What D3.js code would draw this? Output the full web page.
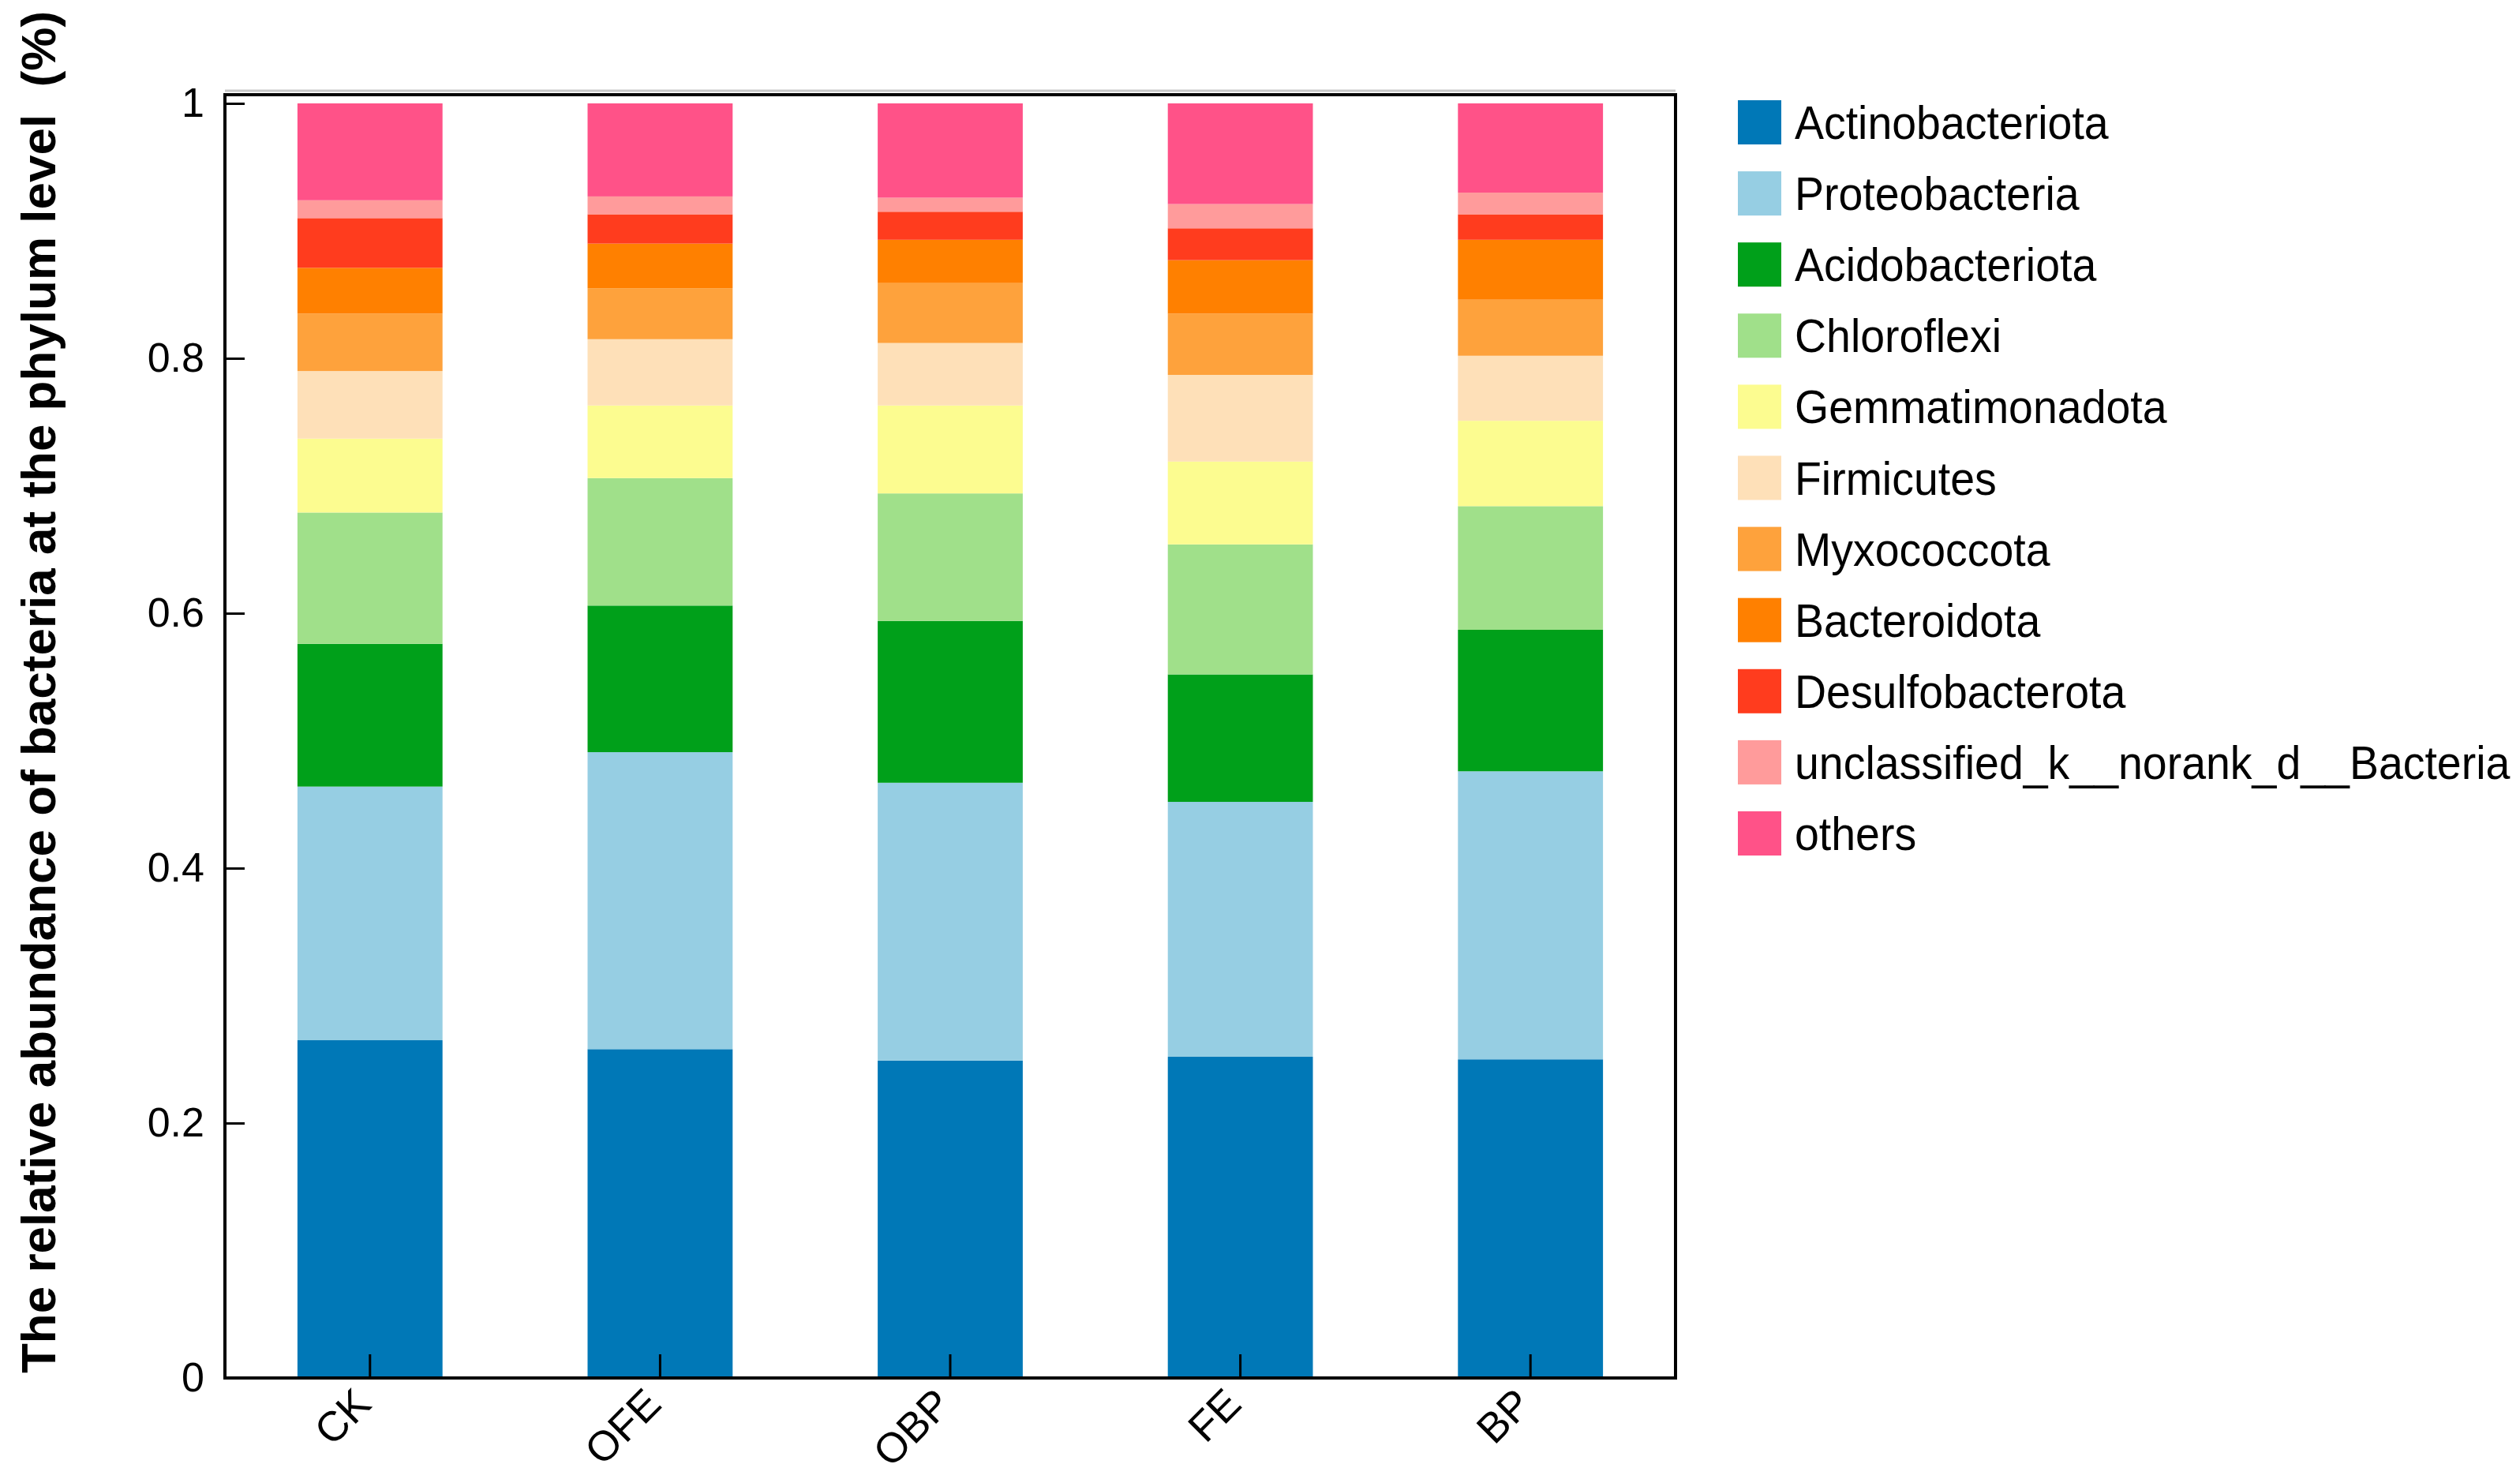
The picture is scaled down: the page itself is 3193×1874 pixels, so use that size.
<!DOCTYPE html>
<meta charset='utf-8'>
<title>Relative abundance of bacteria at the phylum level</title>
<style>
body { margin: 0; background: #fff; }
svg { display: block; font-family: 'Liberation Sans', Arial, sans-serif; }
.axis path { display: none; }
.axis line { stroke: #000; stroke-width: 3px; }
.axis text { font-size: 52px; fill: #000; }
.xaxis text { font-size: 53px; }
.frame { fill: none; stroke: #000; stroke-width: 4px; }
.legend text { font-size: 59px; fill: #000; }
.ytitle { font-size: 62px; font-weight: bold; }
</style>
<body>
<script src='https://d3js.org/d3.v7.min.js'></script>
<script>
// samples along x
var samples = ['CK', 'OFE', 'OBP', 'FE', 'BP'];

// phyla, bottom to top of the stack
var phyla = ['Actinobacteriota', 'Proteobacteria', 'Acidobacteriota', 'Chloroflexi',
  'Gemmatimonadota', 'Firmicutes', 'Myxococcota', 'Bacteroidota', 'Desulfobacterota',
  'unclassified_k__norank_d__Bacteria', 'others'];

var colors = ['#0078b7', '#96cee3', '#00a01a', '#a0e08a', '#fcfc90', '#fee0b8',
  '#fea23c', '#ff8000', '#ff3c1e', '#ff9b9b', '#ff5288'];

// relative abundance per phylum, one value per sample (CK, OFE, OBP, FE, BP)
var actinobacteriota = [0.265, 0.258, 0.249, 0.252, 0.250];
var proteobacteria   = [0.199, 0.233, 0.218, 0.200, 0.226];
var acidobacteriota  = [0.112, 0.115, 0.127, 0.100, 0.111];
var chloroflexi      = [0.103, 0.100, 0.100, 0.102, 0.097];
var gemmatimonadota  = [0.058, 0.057, 0.069, 0.065, 0.067];
var firmicutes       = [0.053, 0.052, 0.049, 0.068, 0.051];
var myxococcota      = [0.045, 0.040, 0.047, 0.048, 0.044];
var bacteroidota     = [0.036, 0.035, 0.034, 0.042, 0.047];
var desulfobacterota = [0.039, 0.023, 0.022, 0.025, 0.020];
var unclassified     = [0.014, 0.014, 0.011, 0.019, 0.017];
var others           = [0.076, 0.073, 0.074, 0.079, 0.070];

var yTicks = [0, 0.2, 0.4, 0.6, 0.8, 1];

var series = [actinobacteriota, proteobacteria, acidobacteriota, chloroflexi,
  gemmatimonadota, firmicutes, myxococcota, bacteroidota, desulfobacterota,
  unclassified, others];

// build rows for d3.stack
var table = samples.map(function(s, i) {
  var row = { sample: s };
  phyla.forEach(function(p, k) { row[p] = series[k][i]; });
  return row;
});

var width = 3193, height = 1874;
var plot = { left: 285, right: 2123, top: 120, bottom: 1746 };

var svg = d3.select('body').append('svg')
  .attr('width', width)
  .attr('height', height);

var x = d3.scaleBand()
  .domain(samples)
  .range([plot.left, plot.right])
  .paddingInner(0.5)
  .paddingOuter(0.25);

var y = d3.scaleLinear()
  .domain([0, 1])
  .range([plot.bottom, 131]);

var color = d3.scaleOrdinal().domain(phyla).range(colors);

var stacked = d3.stack().keys(phyla)(table);

svg.append('g')
  .selectAll('g')
  .data(stacked)
  .join('g')
    .attr('fill', function(d) { return color(d.key); })
  .selectAll('rect')
  .data(function(d) { return d; })
  .join('rect')
    .attr('x', function(d) { return x(d.data.sample); })
    .attr('y', function(d) { return y(d[1]); })
    .attr('width', x.bandwidth())
    .attr('height', function(d) { return y(d[0]) - y(d[1]); });

// faint grey line just above the top border, as in the figure
svg.append('line')
  .attr('x1', plot.left).attr('x2', plot.right)
  .attr('y1', plot.top - 5).attr('y2', plot.top - 5)
  .attr('stroke', '#c8c8c8')
  .attr('stroke-width', 3);

// frame round the plot
svg.append('rect')
  .attr('class', 'frame')
  .attr('x', plot.left)
  .attr('y', plot.top)
  .attr('width', plot.right - plot.left)
  .attr('height', plot.bottom - plot.top);

// y axis, ticks pointing inward
svg.append('g')
  .attr('class', 'axis')
  .attr('transform', 'translate(' + plot.left + ',0)')
  .call(d3.axisLeft(y).tickValues(yTicks).tickSize(-25).tickSizeOuter(0).tickPadding(26)
    .tickFormat(d3.format('~g')));

// x axis, ticks pointing inward, rotated labels
var xAxis = svg.append('g')
  .attr('class', 'axis xaxis')
  .attr('transform', 'translate(0,' + plot.bottom + ')')
  .call(d3.axisBottom(x).tickSize(-30).tickSizeOuter(0));

xAxis.selectAll('text')
  .attr('text-anchor', 'end')
  .attr('dy', null)
  .attr('y', 0)
  .attr('transform', 'translate(4,36) rotate(-45)');

// y title
svg.append('text')
  .attr('class', 'ytitle')
  .attr('transform', 'translate(70,877) rotate(-90)')
  .attr('text-anchor', 'middle')
  .text('The relative abundance of bacteria at the phylum level\u00a0\u00a0(%)');

// legend
var legend = svg.append('g')
  .attr('class', 'legend')
  .selectAll('g')
  .data(phyla)
  .join('g')
    .attr('transform', function(d, i) { return 'translate(2202,' + (127 + i * 90.1) + ')'; });

legend.append('rect')
  .attr('width', 55)
  .attr('height', 56)
  .attr('fill', function(d) { return color(d); });

// the figure's legend font is a little condensed
legend.append('text')
  .attr('transform', 'translate(72,49) scale(0.94,1)')
  .text(function(d) { return d; });
</script>
</body>
